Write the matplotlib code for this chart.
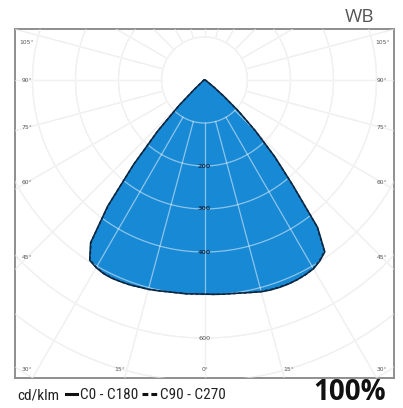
import numpy as np
import matplotlib
matplotlib.use("Agg")
import matplotlib.pyplot as plt
from matplotlib.lines import Line2D
from matplotlib import font_manager

# ---------------- data (cd/klm) ----------------
gamma = [0, 2.5, 5, 7.5, 10, 12.5, 15, 17.5, 20, 22.5, 25, 27.5, 30, 32.5, 35,
         37.5, 40, 42.5, 45, 47.5, 50, 52.5, 55, 57.5, 60, 62.5, 65, 67.5, 70,
         72.5, 75, 77.5, 80, 82.5, 85, 87.5, 90]
i_c0 = [498, 499, 500, 501, 503, 506, 510, 512, 513, 513, 512, 510, 507, 499, 488,
        432, 320, 242, 168, 108, 58, 30, 16, 10, 7, 6, 5, 4, 3.5,
        3, 2.5, 2, 1.5, 1, 0.8, 0.4, 0]
i_c180 = [498, 498, 499, 499, 500, 502, 504, 505, 507, 508, 509, 508, 504, 497, 462,
          370, 257, 162, 85, 32, 13, 8, 6, 5, 4, 3.5, 3, 2.5, 2,
          1.8, 1.5, 1.2, 1, 0.8, 0.5, 0.3, 0]
i_c90 = [498, 499, 500, 501, 503, 506, 509, 511, 512, 513, 512, 510, 506, 498, 486,
         430, 318, 240, 166, 106, 56, 29, 15, 10, 7, 6, 5, 4, 3.5,
         3, 2.5, 2, 1.5, 1, 0.8, 0.4, 0]
i_c270 = [498, 498, 499, 499, 500, 502, 504, 505, 507, 508, 508, 507, 503, 496, 460,
          368, 255, 160, 83, 31, 13, 8, 6, 5, 4, 3.5, 3, 2.5, 2,
          1.8, 1.5, 1.2, 1, 0.8, 0.5, 0.3, 0]
ring_values = [100, 200, 300, 400, 500, 600, 700, 800]
ring_labels = ["200", "300", "400", "600"]
angle_labels = [0, 15, 30, 45, 60, 75, 90, 105]

FILL = "#1789d5"
EDGE = "#0c2742"
GRID = "#e3e3e3"

fig = plt.figure(figsize=(4.03, 4.08), dpi=100)
ax = fig.add_axes([15 / 403, 30 / 408, 379 / 403, 349 / 408])
SC = 0.43  # px per cd/klm
ax.set_xlim(-189.5 / SC, 189.5 / SC)
ax.set_ylim(-(378 - 80) / SC, (80 - 29) / SC)
ax.set_xticks([])
ax.set_yticks([])
for s in ax.spines.values():
    s.set_color("#8e8e8e")
    s.set_linewidth(1.4)


def curve(left_vals, right_vals):
    g = np.radians(np.array(gamma, dtype=float))
    lv = np.array(left_vals, dtype=float)
    rv = np.array(right_vals, dtype=float)
    xl = -lv * np.sin(g)
    yl = -lv * np.cos(g)
    xr = rv * np.sin(g)
    yr = -rv * np.cos(g)
    x = np.concatenate([xl[::-1], xr[1:]])
    y = np.concatenate([yl[::-1], yr[1:]])
    return x, y


t = np.linspace(0, 2 * np.pi, 721)


def draw_grid(color, lw, alpha, z):
    for rv in ring_values:
        ax.plot(rv * np.cos(t), rv * np.sin(t), color=color, lw=lw, alpha=alpha,
                zorder=z)
    for a in range(0, 360, 15):
        ar = np.radians(a)
        ax.plot([100 * np.sin(ar), 1100 * np.sin(ar)],
                [-100 * np.cos(ar), -1100 * np.cos(ar)],
                color=color, lw=lw, alpha=alpha, zorder=z)


draw_grid(GRID, 0.9, 1.0, 1)

x1, y1 = curve(i_c180, i_c0)
x2, y2 = curve(i_c270, i_c90)
ax.fill(x1, y1, color=FILL, lw=0, zorder=2)
ax.fill(x2, y2, color=FILL, lw=0, zorder=2)
draw_grid("white", 0.9, 0.5, 3)
ax.plot(x1, y1, color=EDGE, lw=1.1, zorder=4)
ax.plot(x2, y2, color=EDGE, lw=1.1, ls=(0, (2, 1.5)), zorder=4)

for lab in ring_labels:
    v = float(lab)
    inside = v < 500
    ax.text(0, -v, lab, ha="center", va="center", fontsize=4.6,
            fontweight="bold" if inside else "normal",
            color="#0e3558" if inside else "#555555", zorder=5)

XE, YT, YB = 413.0, 88.0, -674.0
for a in angle_labels:
    for side in (-1, 1):
        if a == 0 and side == -1:
            continue
        ar = np.radians(a)
        dx, dy = np.sin(ar), -np.cos(ar)
        if a <= 20:
            tt = YB / dy
            px, py = side * (tt * dx), YB
            if a > 0:
                px += side * 16
        else:
            tt = XE / dx
            px, py = side * XE, min(max(tt * dy, YB), YT)
        ax.text(px, py, f"{a}°", ha="center", va="center", fontsize=4.3,
                color="#555555", zorder=6)


def fx(p):
    return p / 403


def fy(p):
    return 1 - p / 408


fig.text(fx(345), fy(17), "WB", fontsize=13.5, color="#555555",
         family=["Open Sans", "DejaVu Sans"], va="center", ha="left")

names = {f.name for f in font_manager.fontManager.ttflist}
cond = None
for cand in ["Liberation Sans Narrow", "DejaVu Sans Condensed", "Roboto Condensed",
             "Open Sans Condensed", "Noto Sans Condensed"]:
    if cand in names:
        cond = cand
        break
if cond is not None:
    fam, fs, stretch = [cond, "DejaVu Sans"], 11, "normal"
else:
    fam, fs, stretch = ["Roboto", "DejaVu Sans"], 11, "condensed"

kw = dict(fontsize=fs, color="#222222", family=fam, va="center", ha="left",
          fontstretch=stretch)
renderer = fig.canvas.get_renderer()
ybase = fy(395)
yline = fy(394)


def put_text(xpix, s):
    tx = fig.text(fx(xpix), ybase, s, **kw)
    bb = tx.get_window_extent(renderer=renderer)
    return bb.x1  # right edge in pixels


xr = put_text(17, "cd/klm")
x0 = xr + 7
fig.add_artist(Line2D([fx(x0), fx(x0 + 11)], [yline, yline], color="#111111",
                      lw=2.2, transform=fig.transFigure))
xr = put_text(x0 + 14, "C0 - C180")
x0 = xr + 4
fig.add_artist(Line2D([fx(x0), fx(x0 + 15)], [yline, yline], color="#111111",
                      lw=2.2, ls=(0, (1.9, 1.0)), transform=fig.transFigure))
put_text(x0 + 18, "C90 - C270")

fig.text(fx(386), fy(393), "100%", fontsize=20, fontweight="bold",
         color="#111111", family=["Open Sans", "DejaVu Sans"],
         va="center", ha="right")

fig.savefig("out.png", dpi=100)
